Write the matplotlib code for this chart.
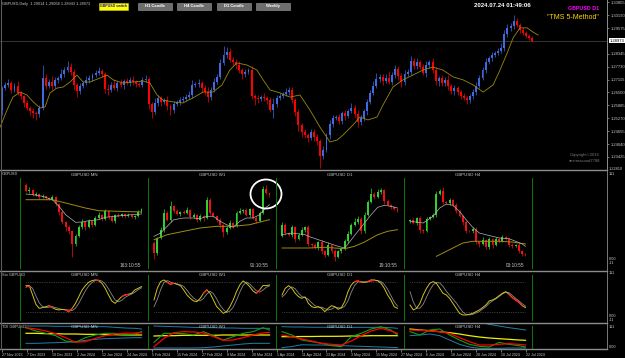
import numpy as np
import matplotlib.pyplot as plt
from matplotlib.patches import Rectangle, Ellipse
from matplotlib.transforms import blended_transform_factory

plt.rcParams['font.family'] = ['Liberation Sans', 'DejaVu Sans']

W, H = 625, 358

# ---------------- main chart: GBPUSD daily ----------------
first_open = 1.2566
closes = [
    1.2671, 1.2686, 1.2695, 1.2662, 1.2681, 1.2648, 1.2633, 1.2600, 1.2576, 1.2562,
    1.2552, 1.2547, 1.2576, 1.2719, 1.2681, 1.2700, 1.2681, 1.2710, 1.2719, 1.2738,
    1.2757, 1.2771, 1.2748, 1.2686, 1.2657, 1.2681, 1.2695, 1.2710, 1.2719, 1.2733,
    1.2743, 1.2752, 1.2738, 1.2667, 1.2662, 1.2686, 1.2671, 1.2695, 1.2686, 1.2705,
    1.2695, 1.2710, 1.2700, 1.2690, 1.2686, 1.2710, 1.2714, 1.2595, 1.2557, 1.2600,
    1.2624, 1.2605, 1.2614, 1.2586, 1.2566, 1.2595, 1.2605, 1.2614, 1.2619, 1.2628,
    1.2638, 1.2686, 1.2690, 1.2695, 1.2671, 1.2652, 1.2628, 1.2662, 1.2700, 1.2724,
    1.2791, 1.2829, 1.2843, 1.2805, 1.2795, 1.2781, 1.2757, 1.2738, 1.2748, 1.2757,
    1.2633, 1.2624, 1.2619, 1.2628, 1.2624, 1.2614, 1.2566, 1.2595, 1.2624, 1.2633,
    1.2643, 1.2652, 1.2662, 1.2614, 1.2557, 1.2495, 1.2462, 1.2447, 1.2433, 1.2462,
    1.2438, 1.2419, 1.2347, 1.2376, 1.2447, 1.2500, 1.2528, 1.2533, 1.2514, 1.2552,
    1.2538, 1.2562, 1.2576, 1.2547, 1.2509, 1.2528, 1.2562, 1.2605, 1.2648, 1.2681,
    1.2714, 1.2724, 1.2705, 1.2719, 1.2700, 1.2733, 1.2762, 1.2729, 1.2700, 1.2738,
    1.2748, 1.2800, 1.2776, 1.2795, 1.2771, 1.2743, 1.2781, 1.2795, 1.2757, 1.2705,
    1.2719, 1.2695, 1.2710, 1.2681, 1.2657, 1.2671, 1.2652, 1.2633, 1.2624, 1.2614,
    1.2633, 1.2652, 1.2681, 1.2719, 1.2757, 1.2795, 1.2814, 1.2829, 1.2838, 1.2848,
    1.2862, 1.2929, 1.2958, 1.2967, 1.2991, 1.2972, 1.2948, 1.2934, 1.2919, 1.2910,
    1.28973,
]
wick_up = [  # pips
    10, 15, 20, 8, 12, 25, 10, 6, 14, 8,
    12, 10, 15, 60, 20, 15, 30, 12, 10, 22,
    15, 30, 18, 12, 10, 15, 8, 20, 12, 10,
    14, 18, 10, 12, 25, 15, 30, 12, 20, 10,
    15, 12, 18, 10, 8, 14, 20, 12, 10, 25,
    15, 10, 12, 20, 8, 14, 10, 16, 12, 15,
    20, 25, 12, 18, 10, 15, 22, 12, 18, 14,
    20, 45, 25, 18, 12, 15, 20, 10, 14, 12,
    18, 10, 15, 12, 20, 8, 14, 30, 12, 15,
    10, 18, 14, 12, 10, 15, 8, 12, 10, 14,
    12, 15, 10, 18, 12, 20, 14, 10, 16, 12,
    15, 10, 25, 12, 18, 14, 10, 12, 15, 22,
    30, 15, 12, 18, 35, 14, 20, 12, 15, 18,
    12, 25, 14, 20, 10, 15, 18, 12, 20, 14,
    10, 15, 12, 22, 10, 14, 12, 8, 15, 10,
    12, 14, 18, 12, 15, 20, 10, 14, 12, 15,
    25, 18, 20, 15, 28, 12, 10, 14, 8, 12,
    10,
]
wick_dn = [
    25, 10, 12, 15, 8, 12, 15, 20, 10, 18,
    25, 30, 15, 10, 14, 12, 20, 10, 15, 8,
    12, 10, 15, 25, 30, 12, 10, 8, 14, 12,
    10, 12, 15, 20, 25, 12, 10, 15, 12, 18,
    10, 14, 12, 15, 10, 12, 8, 25, 30, 12,
    15, 18, 10, 20, 25, 12, 10, 14, 8, 12,
    10, 12, 8, 15, 20, 14, 25, 12, 10, 8,
    12, 10, 14, 12, 18, 20, 15, 25, 12, 10,
    15, 35, 20, 12, 15, 18, 10, 40, 14, 12,
    10, 8, 12, 15, 20, 30, 25, 15, 20, 12,
    18, 20, 55, 15, 12, 18, 14, 10, 12, 15,
    20, 12, 10, 15, 25, 14, 12, 18, 10, 12,
    8, 14, 20, 12, 10, 15, 12, 18, 25, 12,
    10, 14, 12, 15, 10, 12, 20, 15, 12, 18,
    25, 14, 12, 20, 15, 18, 12, 14, 10, 20,
    15, 12, 14, 10, 8, 12, 10, 14, 12, 8,
    10, 12, 14, 15, 12, 10, 14, 12, 10, 12,
    8,
]
ma_bar = [-0.6, 1.6, 3.5, 5.8, 8, 10, 12.2, 13.8, 15.4, 17.6, 19.6, 21.8, 24, 26, 28.2,
          31.4, 33.7, 35.6, 38.8, 42, 45.2, 47.4, 49.7, 51.6, 54.8, 58, 61.2, 64.4, 67.6,
          70.5, 73, 75.3, 78.5, 81.7, 83.7, 85.9, 89.1, 92.3, 95.5, 98.7, 101.9, 105.1,
          107.4, 109.3, 112.5, 114.7, 117.3, 120.2, 122.1, 125.3, 128.5, 131.7, 134.9,
          138.1, 141.3, 144.6, 147.8, 151, 154.2, 157.4, 159.6, 161.9, 163.8, 166, 168.3,
          170.2, 171.8]
ma_val = [1.2485, 1.2566, 1.2628, 1.2652, 1.2638, 1.2605, 1.2576, 1.2581, 1.2648, 1.2671,
          1.2676, 1.2700, 1.2733, 1.2700, 1.2700, 1.2719, 1.2733, 1.2710, 1.2695, 1.2700,
          1.2705, 1.2695, 1.2638, 1.2614, 1.2605, 1.2600, 1.2624, 1.2652, 1.2652, 1.2686,
          1.2757, 1.2791, 1.2781, 1.2757, 1.2710, 1.2662, 1.2648, 1.2628, 1.2638, 1.2566,
          1.2485, 1.2414, 1.2423, 1.2447, 1.2495, 1.2533, 1.2519, 1.2533, 1.2590, 1.2676,
          1.2710, 1.2733, 1.2757, 1.2771, 1.2757, 1.2724, 1.2710, 1.2686, 1.2652, 1.2686,
          1.2757, 1.2838, 1.2910, 1.2958, 1.2958, 1.2938, 1.2924]
price_ticks = [1.30805, 1.30190, 1.29575, 1.28345, 1.27730, 1.27115, 1.26500,
               1.25885, 1.25270, 1.24655, 1.24040, 1.23425]
last_price = 1.28973
date_bars = [0, 8, 16, 24, 32, 40, 48, 56, 64, 72, 80, 88, 96, 104, 112, 120,
             128, 136, 144, 152, 160, 168]
date_labels = ['27 Nov 2023', '7 Dec 2023', '19 Dec 2023', '2 Jan 2024', '12 Jan 2024',
               '24 Jan 2024', '5 Feb 2024', '15 Feb 2024', '27 Feb 2024', '8 Mar 2024',
               '20 Mar 2024', '1 Apr 2024', '11 Apr 2024', '23 Apr 2024', '3 May 2024',
               '15 May 2024', '27 May 2024', '6 Jun 2024', '18 Jun 2024', '28 Jun 2024',
               '10 Jul 2024', '22 Jul 2024']

# ---------------- mini candle charts (relative level units) ----------------
mn_open = 85.3
mn_close = [78.7, 80.3, 74.7, 76, 72.7, 73.7, 72, 71.3, 72.7, 66, 58, 48, 42.7, 38.7, 26,
            33.7, 42.7, 48, 42.7, 48.7, 44.7, 52, 54.7, 51.3, 58.7, 52.7, 49.3, 55.3, 53.7,
            56, 53.7, 55.3, 52.7, 54.3, 58, 61.3]
mn_up = [2, 3, 1, 2, 1, 2, 1, 1, 2, 1, 1, 2, 1, 2, 1, 2, 2, 3, 1, 2, 1, 2, 3, 1, 2, 1, 2, 1,
         2, 1, 1, 2, 1, 1, 2, 1]
mn_dn = [1, 2, 1, 1, 2, 1, 2, 1, 1, 2, 3, 2, 4, 3, 13, 2, 1, 2, 3, 1, 2, 1, 1, 2, 1, 2, 1, 2,
         1, 1, 2, 1, 1, 2, 1, 1]
mn_fast_i = [0, 2, 5, 8, 10, 12, 14, 15, 17, 19, 22, 24, 27, 30, 32, 35]
mn_fast = [76, 75.3, 73.7, 70.3, 63.7, 55.3, 50.3, 47.7, 48, 49.3, 50.3, 52.7, 53.7, 54.7,
           55.3, 56]
mn_slow_i = [0, 8, 12, 18, 22, 28, 35]
mn_slow = [70.3, 70.3, 67, 62, 59.3, 58.7, 58]

w1_open = 27
w1_close = [17, 32, 40.3, 57, 50.3, 63.7, 59.3, 56, 58, 57, 60.3, 52.7, 54.7, 50.3, 53.7, 52,
            70.3, 57, 53.7, 50.3, 44.7, 37.7, 42, 47, 43.7, 57, 59.3, 60.3, 55.3, 61.3, 52,
            49.3, 57, 81.3, 77, 74.7]
w1_up = [2, 1, 3, 4, 2, 5, 1, 2, 1, 2, 3, 1, 2, 1, 2, 1, 3, 2, 1, 1, 2, 1, 2, 3, 1, 2, 3, 1,
         2, 1, 1, 2, 2, 3, 4, 1]
w1_dn = [6, 2, 1, 2, 1, 2, 2, 1, 2, 1, 1, 2, 1, 2, 1, 3, 1, 2, 1, 2, 3, 5, 2, 1, 2, 1, 1, 2,
         1, 2, 1, 2, 1, 1, 1, 2]
w1_fast_i = [0, 2, 4, 6, 9, 12, 14, 16, 18, 20, 22, 24, 26, 28, 30, 32, 34, 35]
w1_fast = [33.7, 37, 43.7, 50.3, 52, 52, 51.3, 53.7, 53.7, 48.7, 45.3, 42.7, 48.7, 52, 52,
           55.3, 62.7, 65.3]
w1_slow_i = [0, 4, 9, 14, 19, 24, 29, 33, 35]
w1_slow = [30.3, 35.3, 38.7, 42, 43.7, 43.7, 45.3, 48.7, 50.3]

d1_open = 33.7
d1_close = [44.7, 37, 35.3, 42.7, 31.3, 34.7, 40.3, 42.7, 26, 25.3, 22, 28, 18.7, 14.7, 24.7,
            19.3, 12.7, 19.3, 21.3, 29.3, 36, 44.7, 48, 51.3, 39.3, 54.7, 68, 76, 72.7, 78,
            80, 69.3, 64.7, 62.7, 60.7, 59.3]
d1_up = [3, 2, 1, 2, 1, 2, 3, 1, 2, 1, 2, 1, 2, 1, 3, 1, 2, 1, 1, 2, 3, 2, 4, 3, 2, 3, 2, 6,
         2, 3, 2, 1, 2, 1, 1, 1]
d1_dn = [1, 2, 1, 2, 3, 1, 1, 2, 2, 3, 1, 2, 3, 2, 1, 2, 4, 1, 2, 1, 2, 1, 1, 2, 3, 2, 1, 1,
         2, 1, 2, 3, 1, 2, 1, 1]
d1_fast_i = [0, 3, 7, 8, 11, 14, 17, 19, 21, 23, 25, 27, 29, 31, 33, 35]
d1_fast = [35.3, 37, 35.3, 33.7, 30.3, 27, 23.7, 22, 30.3, 38.7, 47, 55.3, 62.7, 64.7, 63.7,
           62]
d1_slow_i = [0, 5, 8, 13, 19, 22, 25, 29, 32, 35]
d1_slow = [22, 22, 22, 22.7, 21.3, 23.7, 28, 35.3, 38.7, 40.3]

h4_open = 48.7
h4_close = [50.3, 47, 52, 40.3, 38.7, 51.3, 53.3, 54.7, 76, 79.3, 68, 67.3, 70, 64.7, 59.3,
            53.7, 48, 39.3, 38.7, 41.3, 28, 26, 30, 22.7, 31.3, 24.7, 30.7, 28.7, 32.7, 31.3,
            24.7, 24, 25.3, 19.3, 16, 14.7]
h4_up = [1, 2, 1, 2, 1, 2, 1, 2, 3, 2, 4, 1, 2, 1, 2, 1, 1, 2, 1, 2, 2, 1, 3, 1, 2, 1, 2, 1,
         2, 1, 1, 2, 1, 2, 1, 1]
h4_dn = [2, 1, 2, 3, 2, 1, 1, 1, 2, 1, 2, 1, 2, 1, 2, 1, 3, 2, 1, 2, 2, 3, 1, 2, 2, 3, 1, 2,
         1, 1, 2, 2, 1, 2, 2, 1]
h4_fast_i = [0, 4, 7, 9, 11, 13, 15, 17, 19, 21, 23, 25, 27, 30, 32, 34, 35]
h4_fast = [48.7, 47, 53.7, 62, 66, 64.7, 58.7, 50.3, 42.7, 37, 35.3, 33.7, 32, 31.3, 28.7,
           26, 23.7]
h4_slow_i = [8, 10, 13, 16, 19, 23, 27, 31, 35]
h4_slow = [13.7, 17, 22, 27, 28.7, 28.7, 28.7, 28, 26]

timers = ['163:10:55', '91:10:55', '19:10:55', '03:10:55']
tf_names = ['MN', 'W1', 'D1', 'H4']

# ---------------- stochastic ----------------
mn_sto = [73.5, 73.5, 54.2, 34.9, 26.6, 28, 30, 32.1, 28, 24.5, 23.2, 24.5, 23.2, 19.7, 26.6,
          36.9, 50.8, 64.6, 73.5, 80.4, 83.9, 85.3, 83.9, 78.4, 68, 54.2, 41.8, 36.9, 43.9,
          50.8, 54.2, 55.6, 57.7, 64.6, 68, 71.5]
mn_sig = [70, 73, 68, 52, 38, 30, 28, 29, 30, 28, 26, 24, 24, 23, 22, 27, 37, 50, 63, 73, 80,
          84, 85, 83, 77, 67, 55, 44, 40, 43, 49, 53, 56, 60, 65, 69]
w1_sto = [43.9, 68, 81.8, 85.3, 80.4, 76.3, 78.4, 76.3, 73.5, 64.6, 54.2, 47.3, 41.8, 40.4,
          47.3, 57.7, 64.6, 57.7, 43.9, 30, 23.2, 16.3, 19.7, 30, 43.9, 61.1, 74.9, 83.2, 78.4,
          71.5, 62.5, 57.7, 64.6, 73.5, 73.5, 74.9]
w1_sig = [30, 45, 65, 80, 84, 81, 78, 77, 75, 72, 64, 55, 48, 43, 42, 47, 56, 62, 57, 46, 33,
          24, 18, 21, 29, 43, 60, 74, 81, 77, 70, 63, 60, 64, 70, 73]
d1_sto = [54.2, 68, 73.5, 68, 57.7, 50.8, 47.3, 50.1, 36.9, 30, 28, 30, 26.6, 19.7, 26.6, 32.1,
          30, 24.5, 28, 40.4, 61.1, 74.9, 81.8, 83.2, 80.4, 80.4, 81.8, 85.3, 85.3, 83.2, 78.4,
          68, 54.2, 43.9, 30, 26.6]
d1_sig = [50, 56, 66, 71, 67, 58, 51, 49, 45, 38, 32, 29, 29, 26, 23, 25, 29, 28, 27, 31, 42,
          60, 74, 81, 82, 81, 81, 83, 84, 84, 82, 76, 66, 53, 40, 31]
h4_sto = [33.5, 23.2, 26.6, 36.9, 54.2, 68, 78.4, 81.8, 78.4, 68, 57.7, 54.2, 47.3, 36.9, 26.6,
          16.3, 12.8, 12.8, 14.2, 16.3, 19.7, 23.2, 28, 33.5, 41.8, 43.9, 47.3, 52.8, 57.7,
          61.1, 55.6, 48.7, 43.9, 39, 32.1, 28]
h4_sig = [61, 40, 27, 27, 35, 50, 64, 75, 80, 79, 72, 62, 54, 46, 38, 28, 19, 14, 13, 14, 17,
          20, 25, 30, 37, 42, 46, 51, 56, 60, 59, 53, 47, 42, 36, 31]
mn_red = [0, 7, 12, 13, 21, 29, 30]
w1_red = [4, 5, 15, 31]
d1_red = [22, 23, 26, 27]
h4_red = [30, 31, 32, 33]

# ---------------- TDI ----------------
tdi_idx = [0, 3, 6, 9, 12, 15, 18, 21, 24, 27, 30, 33, 35]
mn_tdi_hi = [92, 92, 92, 90.7, 90.7, 90.7, 89.3, 89.3, 89.3, 86.7, 84, 82.7, 80]
mn_tdi_lo = [22.7, 22.7, 24, 25.3, 26.7, 29.3, 34.7, 38.7, 41.3, 42.7, 44, 45.3, 45.3]
mn_tdi_mid = [62.7, 62.7, 61.3, 61.3, 60, 60, 58.7, 58.7, 57.3, 57.3, 56, 56, 56]
mn_tdi_sig = [85.3, 80, 72, 61.3, 45.3, 26.7, 29.3, 42.7, 53.3, 60, 62.7, 64, 65.3]
mn_tdi_rsi = [85.3, 72, 62.7, 53.3, 32, 26.7, 45.3, 56, 62.7, 62.7, 56, 60, 69.3]
w1_tdi_hi = [92, 90.7, 89.3, 88, 86.7, 85.3, 85.3, 84, 84, 82.7, 82.7, 82.7, 82.7]
w1_tdi_lo = [4, 4, 4, 4, 4, 5.3, 8, 12, 16, 20, 22.7, 22.7, 22.7]
w1_tdi_mid = [52, 53.3, 53.3, 54.7, 54.7, 54.7, 54.7, 56, 56, 56, 56, 56, 56]
w1_tdi_sig = [9.3, 42.7, 65.3, 69.3, 68, 64, 49.3, 34.7, 36, 45.3, 56, 64, 66.7]
w1_tdi_rsi = [26.7, 62.7, 62.7, 61.3, 56, 69.3, 53.3, 36, 49.3, 62.7, 69.3, 85.3, 76]
d1_tdi_hi = [89.3, 88, 88, 87, 87, 86.7, 86.7, 86.7, 86.7, 86.7, 86.7, 85, 82.7]
d1_tdi_lo = [5.3, 10, 17, 16, 16, 14.7, 13.3, 12, 10.7, 9.3, 8, 6.7, 5.3]
d1_tdi_mid = [49.3, 49.3, 50, 50, 50.7, 50.7, 51, 52, 52, 53.3, 53.3, 53.3, 53.3]
d1_tdi_sig = [56, 49.3, 40, 32, 22.7, 18.7, 16, 32, 53.3, 72, 82.7, 72, 62.7]
d1_tdi_rsi = [69.3, 56, 36, 29.3, 22.7, 13.3, 9.3, 49.3, 62.7, 80, 89.3, 76, 56]
h4_tdi_hi = [109.3, 112, 114.7, 116, 116, 114.7, 112, 106.7, 98.7, 92, 85.3, 80, 76]
h4_tdi_lo = [53.3, 56, 60, 53.3, 36, 18.7, 8, 2.7, 2.7, 2.7, 4, 4, 4]
h4_tdi_mid = [80, 76, 73.3, 69.3, 65.3, 60, 53.3, 48, 44, 41.3, 38.7, 36, 34.7]
h4_tdi_sig = [76, 74.7, 72, 69.3, 62.7, 45.3, 29.3, 16, 16, 18.7, 21.3, 18.7, 16]
h4_tdi_rsi = [69.3, 56, 76, 80, 56, 36, 18.7, 10.7, 8, 26.7, 18.7, 13.3, 8]

sub_axis_labels = [('111', 174), ('0.00', 259), ('-11', 263), ('111', 273), ('0.00', 316),
                   ('-11', 320), ('111', 327), ('0.00', 347)]

# ---------------- drawing ----------------
fig = plt.figure(figsize=(W / 100, H / 100), dpi=100, facecolor='black')
GRAY = '#c8c8c8'
BORDER = '#8c8c8c'


def px_axes(x0, y0, x1, y1, z=1):
    ax = fig.add_axes([x0 / W, 1 - y1 / H, (x1 - x0) / W, (y1 - y0) / H], zorder=z)
    ax.set_facecolor('none')
    for s in ax.spines.values():
        s.set_visible(False)
    ax.set_xticks([])
    ax.set_yticks([])
    return ax


def draw_candles(ax, o, c, up, dn, bull, bear, width, wlw, scale=1.0):
    o = np.asarray(o, float)
    c = np.asarray(c, float)
    x = np.arange(len(c))
    hi = np.maximum(o, c) + np.asarray(up) * scale
    lo = np.minimum(o, c) - np.asarray(dn) * scale
    cols = np.where(c >= o, bull, bear)
    ax.vlines(x, lo, hi, colors=cols, lw=wlw, zorder=2)
    body = np.maximum(np.abs(c - o), (hi.max() - lo.min()) * 0.004)
    ax.bar(x, body, bottom=np.minimum(o, c), width=width, color=cols, lw=0, zorder=3)


# main chart
ax = px_axes(0, 0, 607, 169)
opens = [first_open] + closes[:-1]
draw_candles(ax, opens, closes, wick_up, wick_dn, '#3f6ae0', '#ff0000', 0.62, 0.5, 0.0001)
ax.plot(ma_bar, ma_val, color='#9a8712', lw=0.6, zorder=4)
ax.axhline(last_price, color='#3c3c3c', lw=0.6, zorder=1)
ax.set_xlim(-0.64, 193.9)
ax.set_ylim(1.22850, 1.30911)
ax.spines['right'].set_visible(True)
ax.spines['right'].set_color(BORDER)
ax.spines['right'].set_linewidth(0.6)
ax.yaxis.tick_right()
ax.set_yticks(price_ticks)
ax.set_yticklabels([f'{p:.5f}' for p in price_ticks])
ax.tick_params(axis='y', colors=GRAY, labelsize=3.0, length=1.5, width=0.4, pad=1)
tr = blended_transform_factory(ax.transAxes, ax.transData)
ax.text(1.004, last_price, f'{last_price:.5f}', transform=tr, fontsize=3.0, color='black',
        va='center', ha='left', zorder=10,
        bbox=dict(boxstyle='square,pad=0.15', fc='white', ec='white', lw=0))

# mini panes
candle_sets = [(mn_open, mn_close, mn_up, mn_dn, mn_fast_i, mn_fast, mn_slow_i, mn_slow),
               (w1_open, w1_close, w1_up, w1_dn, w1_fast_i, w1_fast, w1_slow_i, w1_slow),
               (d1_open, d1_close, d1_up, d1_dn, d1_fast_i, d1_fast, d1_slow_i, d1_slow),
               (h4_open, h4_close, h4_up, h4_dn, h4_fast_i, h4_fast, h4_slow_i, h4_slow)]
sto_sets = [(mn_sto, mn_sig, mn_red), (w1_sto, w1_sig, w1_red),
            (d1_sto, d1_sig, d1_red), (h4_sto, h4_sig, h4_red)]
tdi_sets = [(mn_tdi_hi, mn_tdi_lo, mn_tdi_mid, mn_tdi_sig, mn_tdi_rsi),
            (w1_tdi_hi, w1_tdi_lo, w1_tdi_mid, w1_tdi_sig, w1_tdi_rsi),
            (d1_tdi_hi, d1_tdi_lo, d1_tdi_mid, d1_tdi_sig, d1_tdi_rsi),
            (h4_tdi_hi, h4_tdi_lo, h4_tdi_mid, h4_tdi_sig, h4_tdi_rsi)]

for k in range(4):
    x0 = 20 + 128 * k
    # candles
    o0, cl, up, dn, fi, fv, si, sv = candle_sets[k]
    a = px_axes(x0, 171, x0 + 128, 270)
    draw_candles(a, [o0] + cl[:-1], cl, up, dn, '#2fd02f', '#ee1111', 0.6, 0.5)
    a.plot(si, sv, color='#a08c14', lw=0.7, zorder=4)
    a.plot(fi, fv, color='#b4b4b4', lw=0.5, zorder=4)
    a.set_xlim(-1.82, 36.97)
    a.set_ylim(0, 99)
    # stochastic
    sto, sig, red = sto_sets[k]
    a = px_axes(x0, 272, x0 + 128, 322)
    a.hlines([20, 80], 0, 35, colors='#6a6a6a', linestyles=(0, (1, 1.5)), lw=0.5)
    a.plot(sig, color='#8a8a8a', lw=0.6)
    a.plot(sto, color='#cfc21c', lw=0.7)
    for i in red:
        a.plot([i, i + 1], [sto[i], sto[i + 1]], color='#ff2020', lw=0.9)
    a.set_xlim(-1.82, 36.97)
    a.set_ylim(-1.7, 101.7)
    # TDI
    hi, lo, mid, sg, rsi = tdi_sets[k]
    a = px_axes(x0, 324, x0 + 128, 349)
    a.plot(tdi_idx, hi, color='#1f7faa', lw=0.7)
    a.plot(tdi_idx, lo, color='#1f7faa', lw=0.7)
    a.plot(tdi_idx, mid, color='#f0f000', lw=0.9)
    a.plot(tdi_idx, rsi, color='#12a012', lw=0.8)
    a.plot(tdi_idx, sg, color='#ff0000', lw=0.9)
    a.set_xlim(-1.82, 36.97)
    a.set_ylim(0, 100)

# date axis on shared daily scale
da = px_axes(0, 324, 607, 349, z=0)
da.set_xlim(-0.64, 193.9)
da.set_xticks(date_bars)
da.set_xticklabels(date_labels, ha='left')
da.tick_params(axis='x', colors=GRAY, labelsize=2.6, length=2, width=0.4, pad=1.2)

# overlay: borders, separators, texts, buttons
ov = fig.add_axes([0, 0, 1, 1], zorder=20)
ov.set_xlim(0, W)
ov.set_ylim(H, 0)
ov.axis('off')
ov.patch.set_alpha(0)

for y in (170, 271, 323, 349):
    ov.plot([0, 607], [y, y], color=BORDER, lw=1.0)
ov.plot([607, 607], [0, 349], color=BORDER, lw=0.6)
ov.plot([0.6, 0.6], [0, 349], color='#5a5a5a', lw=0.8)

for k in range(5):
    xs = 20 + 128 * k
    for y0, y1 in ((178, 268), (275, 320), (326, 348)):
        ov.plot([xs, xs], [y0, y1], color='#0d7a0d', lw=0.7)
for k in range(4):
    x0 = 20 + 128 * k
    for yt in (175, 275.5, 327.5):
        ov.text(x0 + 64, yt, f'GBPUSD {tf_names[k]}', fontsize=3.2, color=GRAY,
                ha='center', va='center')
    ov.text(x0 + 121, 265.5, timers[k], fontsize=3.4, color=GRAY, ha='right', va='center')

ov.text(2, 174, 'GBPUSD', fontsize=2.8, color=GRAY, va='center')
ov.text(2, 275, 'Sto GBPUSD', fontsize=2.8, color=GRAY, va='center')
ov.text(2, 327, 'TDI GBPUSD', fontsize=2.8, color=GRAY, va='center')
for t, y in sub_axis_labels:
    ov.text(609, y, t, fontsize=2.8, color=GRAY, va='center')
ov.text(609, 169.5, '1.22810', fontsize=2.8, color=GRAY, va='center')

ov.text(2, 4.5, 'GBPUSD,Daily  1.29014 1.29068 1.28943 1.28973', fontsize=2.8,
        color=GRAY, va='center')
ov.add_patch(Rectangle((99, 3), 29, 6.5, fc='#ffff00', ec='#d0d000', lw=0.4))
ov.text(113.5, 6.3, 'GBPUSD switch', fontsize=2.5, color='#1010c0', ha='center',
        va='center', weight='bold')
for bx, lab in ((138, 'H1 Candle'), (177, 'H4 Candle'), (217, 'D1 Candle'), (256, 'Weekly')):
    ov.add_patch(Rectangle((bx, 3), 34, 6.5, fc='#6e6e6e', ec='#9a9a9a', lw=0.4))
    ov.text(bx + 17, 6.3, lab, fontsize=3.0, color='white', ha='center', va='center',
            weight='bold')

ov.text(502, 5.8, '2024.07.24 01:49:06', fontsize=4.4, color='white', ha='center',
        va='center', weight='bold')
ov.text(599, 9, 'GBPUSD D1', fontsize=3.8, color='#ff00ff', ha='right', va='center',
        weight='bold')
ov.text(599, 17.5, '"TMS 5-Method"', fontsize=5.0, color='#ffd700', ha='right', va='center')
ov.text(600, 155, 'Copyright©2016', fontsize=3.0, color='#7a7a7a', ha='right', va='center')
ov.text(600, 161, 'amirmasoud7788', fontsize=3.0, color='#7a7a7a', ha='right', va='center')

ov.add_patch(Ellipse((266, 194), 31, 29, fc='none', ec='white', lw=1.3))

fig.savefig('out.png', dpi=100, facecolor='black')
